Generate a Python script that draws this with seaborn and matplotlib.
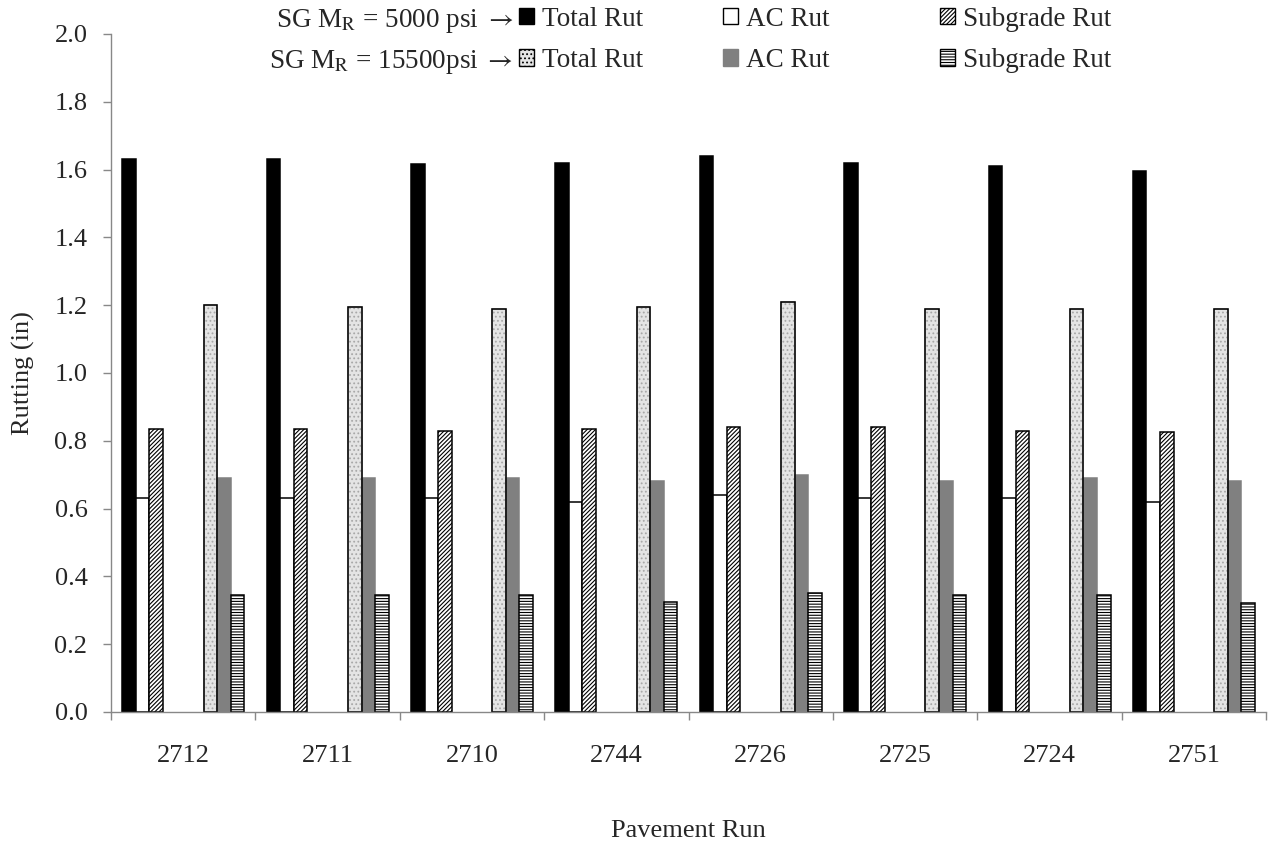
import pandas as pd
import matplotlib
matplotlib.use("Agg")
import matplotlib.pyplot as plt
import matplotlib.patches as mpatches
import seaborn as sns

# Rutting per pavement run, two subgrade moduli
runs = ['2712', '2711', '2710', '2744', '2726', '2725', '2724', '2751']
total_5000 = [1.63, 1.63, 1.615, 1.62, 1.64, 1.62, 1.61, 1.595]
ac_5000 = [0.63, 0.63, 0.63, 0.62, 0.64, 0.63, 0.63, 0.62]
sg_5000 = [0.835, 0.835, 0.83, 0.835, 0.84, 0.84, 0.83, 0.825]
total_15500 = [1.20, 1.195, 1.19, 1.195, 1.21, 1.19, 1.19, 1.19]
ac_15500 = [0.69, 0.69, 0.69, 0.68, 0.70, 0.68, 0.69, 0.68]
sg_15500 = [0.345, 0.345, 0.345, 0.325, 0.35, 0.345, 0.345, 0.32]

series = {
    'Total 5000': total_5000,
    'AC 5000': ac_5000,
    'SG 5000': sg_5000,
    'Total 15500': total_15500,
    'AC 15500': ac_15500,
    'SG 15500': sg_15500,
}
# three empty slots sit between the two moduli in every group
hue_order = ['Total 5000', 'AC 5000', 'SG 5000', 'gap1', 'gap2', 'gap3',
             'Total 15500', 'AC 15500', 'SG 15500']

rows = []
for name, vals in series.items():
    for run, v in zip(runs, vals):
        rows.append({'run': run, 'series': name, 'rut': v})
df = pd.DataFrame(rows)

styles = {
    'Total 5000': dict(fc='black', ec='black', hatch=None),
    'AC 5000': dict(fc='white', ec='black', hatch=None),
    'SG 5000': dict(fc='white', ec='black', hatch='////////'),
    'Total 15500': dict(fc='#e4e4e4', ec='#a8a8a8', hatch='....'),
    'AC 15500': dict(fc='#808080', ec='#808080', hatch=None),
    'SG 15500': dict(fc='white', ec='black', hatch='------'),
}

sns.set_style('white')
plt.rcParams['font.family'] = ['Liberation Serif', 'DejaVu Serif']
plt.rcParams['mathtext.fontset'] = 'stix'
plt.rcParams['hatch.linewidth'] = 0.8

fig = plt.figure(figsize=(12.75, 8.48), dpi=100)
ax = fig.add_axes([0.0871, 0.1604, 0.9059, 0.7996])

bar_w = 0.845
palette = {h: styles.get(h, {'fc': 'white'})['fc'] for h in hue_order}
sns.barplot(data=df, x='run', y='rut', hue='series', hue_order=hue_order,
            order=runs, palette=palette, width=bar_w, legend=False,
            saturation=1, ax=ax)

# find which hue slot each bar sits in from its position in the group
slot = bar_w / len(hue_order)
for p in ax.patches:
    xc = p.get_x() + p.get_width() / 2
    idx = int(round((xc - round(xc)) / slot + (len(hue_order) - 1) / 2))
    name = hue_order[idx]
    if name not in styles:
        p.set_visible(False)
        continue
    st = styles[name]
    p.set_facecolor(st['fc'])
    p.set_edgecolor(st['ec'])
    p.set_linewidth(1.1)
    if st['hatch']:
        p.set_hatch(st['hatch'])
    if name == 'Total 15500':
        ax.add_patch(mpatches.Rectangle(p.get_xy(), p.get_width(), p.get_height(),
                                        fill=False, ec='black', lw=1.1))

ax.set_ylim(0, 2.0)
ax.set_xlim(-0.5, len(runs) - 0.5)
ax.set_yticks([i / 5 for i in range(11)])
ax.set_yticklabels([f'{i / 5:.1f}' for i in range(11)])
ax.set_xticks([i - 0.5 for i in range(len(runs) + 1)], minor=True)
ax.tick_params(axis='x', which='major', length=0, pad=24, labelsize=19)
ax.tick_params(axis='x', which='minor', length=6, width=1, color='#888888', direction='out')
ax.tick_params(axis='y', length=6, width=1, color='#888888', direction='out', pad=11, labelsize=19)
ax.xaxis.set_ticks_position('bottom')
ax.yaxis.set_ticks_position('left')

sns.despine(ax=ax)
for s in ['left', 'bottom']:
    ax.spines[s].set_color('#888888')
    ax.spines[s].set_linewidth(1)

ax.set_xlabel('Pavement Run', fontsize=19, labelpad=38)
ax.set_ylabel('Rutting (in)', fontsize=19, labelpad=14)

# legend laid out as three columns with row labels on the left
def handle(name):
    st = styles[name]
    return mpatches.Patch(fc=st['fc'], ec='black' if name != 'AC 15500' else st['ec'],
                          hatch=st['hatch'], lw=1)

cols = [('Total 5000', 'Total 15500', 'Total Rut', 0.407),
        ('AC 5000', 'AC 15500', 'AC Rut', 0.567),
        ('SG 5000', 'SG 15500', 'Subgrade Rut', 0.737)]
for a, b, lab, x0 in cols:
    fig.legend(handles=[handle(a), handle(b)], labels=[lab, lab],
               loc='center left', bbox_to_anchor=(x0, 0.953),
               frameon=False, fontsize=19.5, handlelength=0.55, handleheight=0.55,
               handletextpad=0.3, labelspacing=0.6, borderpad=0, borderaxespad=0)

fig.text(0.4024, 0.975, r'SG M$_\mathrm{R}$ = 5000 psi $\rightarrow$', ha='right', va='center', fontsize=19.5)
fig.text(0.4024, 0.927, r'SG M$_\mathrm{R}$ = 15500psi $\rightarrow$', ha='right', va='center', fontsize=19.5)

fig.savefig('out.png', dpi=100)
